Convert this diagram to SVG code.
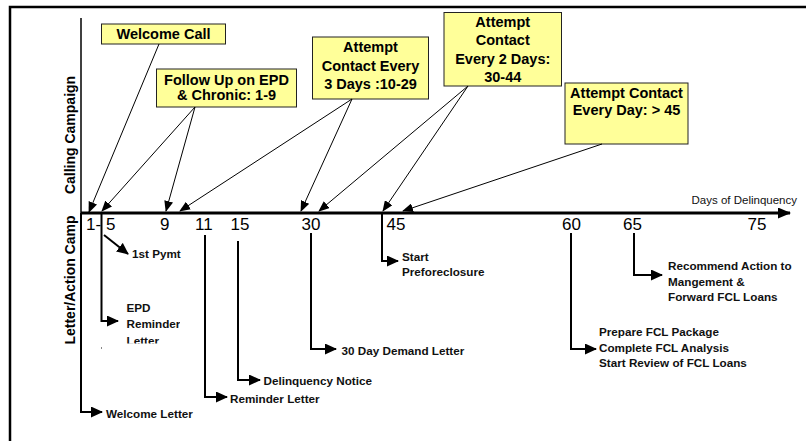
<svg xmlns="http://www.w3.org/2000/svg" width="806" height="441" viewBox="0 0 806 441">
<defs>
<style>
.box{fill:#FFFF99;stroke:#222;stroke-width:1}
.bt{font-family:"Liberation Sans",Arial,sans-serif;font-weight:bold;font-size:14.5px;fill:#000;text-anchor:middle}
.lb{font-family:"Liberation Sans",Arial,sans-serif;font-weight:bold;font-size:11.7px;fill:#111}
.num{font-family:"Liberation Sans",Arial,sans-serif;font-size:17px;fill:#000}
.ax{font-family:"Liberation Sans",Arial,sans-serif;font-weight:bold;font-size:14px;fill:#000;text-anchor:middle}
.call{fill:none;stroke:#000;stroke-width:1;marker-end:url(#ah)}
.lead{fill:none;stroke:#000;stroke-width:2;marker-end:url(#lh)}
</style>
<marker id="ah" markerUnits="userSpaceOnUse" markerWidth="11" markerHeight="9" refX="10" refY="4.5" orient="auto">
<path d="M0,0 L11,4.5 L0,9 z" fill="#000"/>
</marker>
<marker id="lh" markerUnits="userSpaceOnUse" markerWidth="12" markerHeight="11" refX="11" refY="5.5" orient="auto">
<path d="M0,0 L12,5.5 L0,11 z" fill="#000"/>
</marker>
<marker id="axh" markerUnits="userSpaceOnUse" markerWidth="13" markerHeight="11" refX="12" refY="5.5" orient="auto">
<path d="M0,0 L13,5.5 L0,11 z" fill="#000"/>
</marker>
<clipPath id="epdclip"><rect x="100" y="290" width="80" height="53.5"/></clipPath>
</defs>
<rect width="806" height="441" fill="#fff"/>
<!-- frame -->
<path d="M10,441 V7 H806" fill="none" stroke="#000" stroke-width="2.5"/>

<!-- axes -->
<g id="axes">
<line x1="81" y1="18" x2="81" y2="213" stroke="#000" stroke-width="1.5"/>
<line x1="81" y1="213" x2="790" y2="213" stroke="#000" stroke-width="3" marker-end="url(#axh)"/>
<text x="797" y="204" text-anchor="end" font-family="Liberation Sans, Arial, sans-serif" font-size="11.5" fill="#111">Days of Delinquency</text>
<text class="ax" transform="translate(74.5,135) rotate(-90)">Calling Campaign</text>
<text class="ax" transform="translate(74.5,280) rotate(-90)">Letter/Action Camp</text>
<text class="num" x="86" y="230">1-</text>
<text class="num" x="106" y="230">5</text>
<text class="num" x="160" y="230">9</text>
<text class="num" x="195" y="230">11</text>
<text class="num" x="230.5" y="230">15</text>
<text class="num" x="301.5" y="230">30</text>
<text class="num" x="386.5" y="230">45</text>
<text class="num" x="562" y="230">60</text>
<text class="num" x="623" y="230">65</text>
<text class="num" x="747.5" y="230">75</text>
</g>

<!-- callout boxes -->
<g id="welcome-call">
<rect class="box" x="101.5" y="24" width="124" height="20"/>
<text class="bt" x="163.5" y="39">Welcome Call</text>
</g>
<g id="follow-up">
<rect class="box" x="156.5" y="69" width="140" height="38"/>
<text class="bt" x="226.5" y="85">Follow Up on EPD</text>
<text class="bt" x="226.5" y="100">&amp; Chronic: 1-9</text>
</g>
<g id="every-3-days">
<rect class="box" x="312.5" y="37" width="116" height="62"/>
<text class="bt" x="370.5" y="52">Attempt</text>
<text class="bt" x="370.5" y="71">Contact Every</text>
<text class="bt" x="370.5" y="89">3 Days :10-29</text>
</g>
<g id="every-2-days">
<rect class="box" x="444" y="12.5" width="117.5" height="73.5"/>
<text class="bt" x="502.75" y="27">Attempt</text>
<text class="bt" x="502.75" y="45">Contact</text>
<text class="bt" x="502.75" y="64">Every 2 Days:</text>
<text class="bt" x="502.75" y="82">30-44</text>
</g>
<g id="every-day">
<rect class="box" x="565" y="83" width="123" height="61"/>
<text class="bt" x="626.5" y="98">Attempt Contact</text>
<text class="bt" x="626.5" y="115">Every Day: &gt; 45</text>
</g>

<!-- action labels -->
<g id="first-pymt"><text class="lb" x="132" y="258">1st Pymt</text></g>
<g id="epd-reminder" clip-path="url(#epdclip)">
<text class="lb" x="126.5" y="312">EPD</text>
<text class="lb" x="126.5" y="328">Reminder</text>
<text class="lb" x="126.5" y="345">Letter</text>
</g>
<g id="welcome-letter"><text class="lb" x="106" y="418">Welcome Letter</text></g>
<g id="reminder-letter"><text class="lb" x="230" y="403">Reminder Letter</text></g>
<g id="delinquency-notice"><text class="lb" x="263.5" y="385">Delinquency Notice</text></g>
<g id="demand-letter"><text class="lb" x="341.5" y="355">30 Day Demand Letter</text></g>
<g id="preforeclosure">
<text class="lb" x="402" y="261">Start</text>
<text class="lb" x="402" y="276">Preforeclosure</text>
</g>
<g id="fcl-package">
<text class="lb" x="599" y="336">Prepare FCL Package</text>
<text class="lb" x="599" y="352">Complete FCL Analysis</text>
<text class="lb" x="599" y="367">Start Review of FCL Loans</text>
</g>
<g id="recommend">
<text class="lb" x="668" y="270">Recommend Action to</text>
<text class="lb" x="668" y="286">Mangement &amp;</text>
<text class="lb" x="668" y="301">Forward FCL Loans</text>
</g>
<rect x="101" y="347" width="1" height="2" fill="#888"/>

<!-- connectors -->
<g id="connectors">
<path class="call" d="M159,44 L89,212"/>
<path class="call" d="M195,107 L102,211"/>
<path class="call" d="M195,107 L166,211"/>
<path class="call" d="M352,99 L180,211"/>
<path class="call" d="M352,99 L301,211"/>
<path class="call" d="M468,86 L319,211"/>
<path class="call" d="M468,86 L383,211"/>
<path class="call" d="M602,144 L403,211"/>
<path class="lead" d="M104,235 L128,254"/>
<path class="lead" d="M101.5,213 V321 H118"/>
<path class="lead" stroke-width="1.5" d="M81,213 V412 H102"/>
<path class="lead" d="M205,235 V397 H227"/>
<path class="lead" d="M238,241 V380 H260"/>
<path class="lead" d="M311,233 V349 H336"/>
<path class="lead" d="M382,213 V261 H398"/>
<path class="lead" d="M571,233 V349 H596"/>
<path class="lead" d="M634,233 V275 H662"/>
</g>
</svg>
